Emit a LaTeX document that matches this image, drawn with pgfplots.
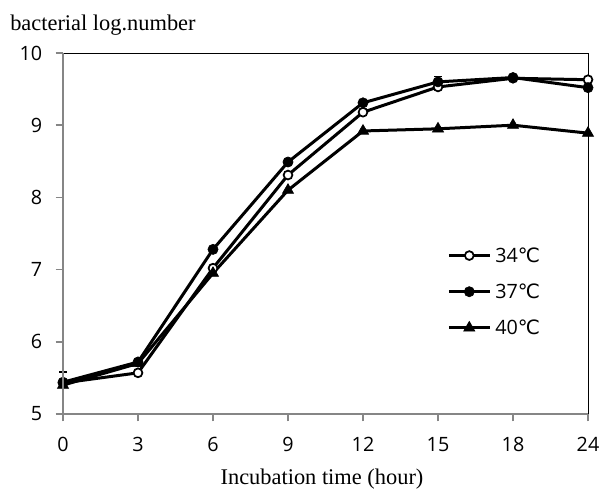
\documentclass[border=0pt]{standalone}
\usepackage{fontspec}
\setmainfont{Liberation Serif}
\newfontfamily\tickfont{Open Sans}
\newfontfamily\dejavu{DejaVu Sans}
\usepackage{pgfplots}
\pgfplotsset{compat=1.18}
\definecolor{axgray}{RGB}{134,134,134}
\newcommand{\degc}{{\dejavu ℃}}
\begin{document}
\begin{tikzpicture}
\useasboundingbox (0,0) rectangle (450pt,369pt);
\begin{axis}[
  at={(47.25pt,58.5pt)}, anchor=south west,
  scale only axis, width=393.75pt, height=270.75pt,
  xmin=0, xmax=7, ymin=5, ymax=10,
  xtick={0,1,2,3,4,5,6,7}, xticklabels={0,3,6,9,12,15,18,24},
  ytick={5,6,7,8,9,10},
  tick align=outside, xtick pos=left, ytick pos=left,
  major tick length=5.5pt,
  major tick style={axgray, line width=1.2pt},
  axis line style={black, line width=0.75pt},
  ticklabel style={font=\tickfont\fontsize{14.8}{14.8}\selectfont, inner sep=0pt},
  /pgf/number format/assume math mode=true,
  yticklabel style={anchor=east, xshift=-10pt},
  xticklabel style={anchor=north, yshift=-12pt},
  legend style={at={(0.7314,0.459)}, anchor=north west, draw=none, fill=none,
    inner sep=0pt, row sep=16.6pt,
    nodes={inner sep=0pt, text height=10.5pt, text depth=0pt, font=\tickfont\fontsize{14.8}{14.8}\selectfont},
    /tikz/every odd column/.append style={column sep=3pt}},
  legend cell align=left,
  legend image code/.code={\draw[mark repeat=2,mark phase=2,#1] plot coordinates {(0pt,0pt) (15.4pt,0pt) (30.75pt,0pt)};},
  every axis plot/.append style={black, line width=2.25pt},
  after end axis/.code={
    \draw[axgray, line width=1.5pt] (rel axis cs:0,1) -- (rel axis cs:0,0) -- (rel axis cs:1,0);
  },
  clip=false,
]
\addplot[mark=*, mark size=3.3pt, mark options={fill=white, line width=1.3pt, solid}]
  coordinates {(0,5.43) (1,5.57) (2,7.02) (3,8.31) (4,9.18) (5,9.53) (6,9.65) (7,9.63)};
\addlegendentry{34\degc}
\addplot[mark=*, mark size=3.8pt, mark options={fill=black, line width=0.5pt, solid},
  error bars/.cd, y dir=plus, y explicit, error bar style={line width=1pt}, error mark options={rotate=90, mark size=3pt, line width=1pt}]
  coordinates {(0,5.44) +- (0,0.14) (1,5.72) +- (0,0) (2,7.28) +- (0,0) (3,8.49) +- (0,0) (4,9.31) +- (0,0) (5,9.60) +- (0,0.07) (6,9.66) +- (0,0) (7,9.52) +- (0,0)};
\addlegendentry{37\degc}
\addplot[mark=triangle*, mark size=4.8pt, mark options={fill=black, line width=0.5pt, solid}]
  coordinates {(0,5.40) (1,5.70) (2,6.95) (3,8.10) (4,8.92) (5,8.95) (6,9.00) (7,8.89)};
\addlegendentry{40\degc}
\end{axis}
\node[anchor=base west, inner sep=0pt, font=\fontsize{16.8}{16.8}\selectfont] at (7.5pt,345.75pt) {bacterial log.number};
\node[anchor=base, inner sep=0pt, font=\fontsize{16.8}{16.8}\selectfont] at (241.5pt,5.25pt) {Incubation time (hour)};
\end{tikzpicture}
\end{document}
